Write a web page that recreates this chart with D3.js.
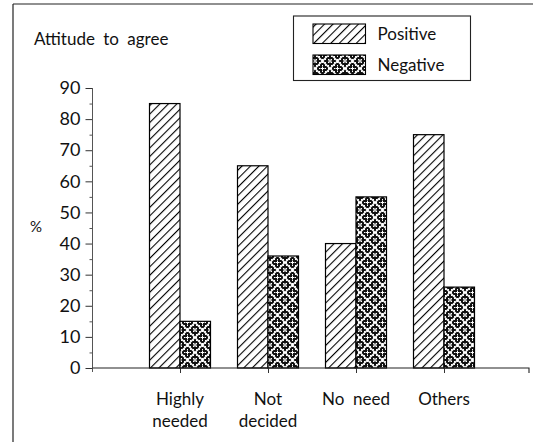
<!DOCTYPE html>
<html>
<head>
<meta charset="utf-8">
<script src="https://cdn.jsdelivr.net/npm/d3@7"></script>
<style>
  body { margin: 0; background: #fff; }
  svg text { font-family: Lato, "Open Sans", sans-serif; fill: #111; }
</style>
</head>
<body>
<svg id="chart" width="533" height="442"></svg>
<script>
const categories = ["Highly needed", "Not decided", "No need", "Others"];
const labelLines = [["Highly", "needed"], ["Not", "decided"], ["No  need"], ["Others"]];
const positive = [85, 65, 40, 75];
const negative = [15, 36, 55, 26];
const yTicks = [0, 10, 20, 30, 40, 50, 60, 70, 80, 90];
const series = ["Positive", "Negative"];

const svg = d3.select("#chart");
const axisX = 92.5;
const y0 = 368;
const yTop = 88;

const xScale = d3.scalePoint().domain(categories).range([180, 444]);
const yScale = d3.scaleLinear().domain([0, 90]).range([y0, yTop]);
const barW = 30.5;

// Patterns
const defs = svg.append("defs");
const hatch = defs.append("pattern")
  .attr("id", "hatch")
  .attr("patternUnits", "userSpaceOnUse")
  .attr("width", 6).attr("height", 6)
  .attr("patternTransform", "rotate(45)");
hatch.append("rect").attr("width", 6).attr("height", 6).attr("fill", "#fff");
hatch.append("line").attr("x1", 0).attr("y1", 0).attr("x2", 0).attr("y2", 6)
  .attr("stroke", "#000").attr("stroke-width", 2.2);

const dots = defs.append("pattern")
  .attr("id", "dots")
  .attr("patternUnits", "userSpaceOnUse")
  .attr("width", 3).attr("height", 3);
dots.append("rect").attr("width", 3).attr("height", 3).attr("fill", "#111");
dots.append("rect").attr("x", 1).attr("y", 1).attr("width", 1).attr("height", 1).attr("fill", "#fff");

const diamond = defs.append("pattern")
  .attr("id", "diamond")
  .attr("patternUnits", "userSpaceOnUse")
  .attr("width", 15).attr("height", 15);
diamond.append("rect").attr("width", 15).attr("height", 15).attr("fill", "#fff");
const dPts = [[7.5, 7.5], [0, 0], [15, 0], [0, 15], [15, 15]];
dPts.forEach(([cx, cy]) => {
  diamond.append("path")
    .attr("d", `M${cx},${cy - 6.4}L${cx + 6.4},${cy}L${cx},${cy + 6.4}L${cx - 6.4},${cy}Z`)
    .attr("fill", "url(#dots)");
  diamond.append("path")
    .attr("d", `M${cx - 2},${cy}H${cx + 2}M${cx},${cy - 2}V${cy + 2}`)
    .attr("stroke", "#fff").attr("stroke-width", 1);
});
const fills = { Positive: "url(#hatch)", Negative: "url(#diamond)" };

// Frame lines
svg.append("line").attr("x1", 13).attr("y1", 4).attr("x2", 533).attr("y2", 4)
  .attr("stroke", "#222").attr("stroke-width", 1.2);
svg.append("line").attr("x1", 13).attr("y1", 4).attr("x2", 13).attr("y2", 442)
  .attr("stroke", "#222").attr("stroke-width", 1.2);

// Bars
const rows = categories.map((c, i) => ({ cat: c, Positive: positive[i], Negative: negative[i] }));
const groups = svg.append("g").selectAll("g").data(rows).join("g");
groups.selectAll("rect")
  .data((d) => series.map((s, j) => ({ cat: d.cat, key: s, value: d[s], j })))
  .join("rect")
  .attr("x", (d) => xScale(d.cat) + (d.j === 0 ? -barW : 0))
  .attr("y", (d) => yScale(d.value))
  .attr("width", barW)
  .attr("height", (d) => yScale(0) - yScale(d.value))
  .attr("fill", (d) => fills[d.key])
  .attr("stroke", "#000")
  .attr("stroke-width", 1.2);

// Y axis
const yAxis = d3.axisLeft(yScale).tickValues(yTicks).tickSize(7).tickPadding(5);
const yG = svg.append("g").attr("transform", `translate(${axisX},0)`).call(yAxis);
yG.select(".domain").remove();
yG.selectAll(".tick line").attr("stroke", "#333");
yG.selectAll(".tick text").style("font-size", "18px");
svg.append("line").attr("x1", axisX).attr("x2", axisX).attr("y1", yTop).attr("y2", y0 + 4)
  .attr("stroke", "#555").attr("stroke-width", 1);
const yMinor = d3.axisLeft(yScale).tickValues(d3.range(5, 90, 10)).tickSize(3).tickFormat("");
const yMG = svg.append("g").attr("transform", `translate(${axisX},0)`).call(yMinor);
yMG.select(".domain").remove();
yMG.selectAll(".tick line").attr("stroke", "#555");

// X axis
const xAxis = d3.axisBottom(xScale).tickSize(5).tickFormat("");
const xG = svg.append("g").attr("transform", `translate(0,${y0})`).call(xAxis);
xG.select(".domain").remove();
xG.selectAll(".tick line").attr("stroke", "#333");
svg.append("path")
  .attr("d", `M${axisX},${y0}H529V${y0 + 5}`)
  .attr("fill", "none").attr("stroke", "#222").attr("stroke-width", 1.1);

const xl = svg.append("g").selectAll("text").data(categories).join("text")
  .attr("x", (d) => xScale(d))
  .attr("y", 405)
  .attr("text-anchor", "middle")
  .style("font-size", "17px")
  .style("white-space", "pre");
xl.selectAll("tspan").data((d, i) => labelLines[i]).join("tspan")
  .attr("x", function () { return d3.select(this.parentNode).attr("x"); })
  .attr("dy", (d, i) => (i === 0 ? 0 : 22))
  .text((d) => d);

// Titles
svg.append("text").attr("x", 34).attr("y", 45).style("font-size", "17px")
  .style("word-spacing", "4px").text("Attitude to agree");
svg.append("text").attr("x", 30).attr("y", 232).style("font-size", "15px").text("%");

// Legend
svg.append("rect").attr("x", 293.5).attr("y", 16).attr("width", 177).attr("height", 64.5)
  .attr("fill", "#fff").attr("stroke", "#222").attr("stroke-width", 1.1);
const leg = svg.append("g").selectAll("g").data(series).join("g")
  .attr("transform", (d, i) => `translate(0,${i * 31})`);
leg.append("rect").attr("x", 313).attr("y", 24).attr("width", 52.5).attr("height", 19.5)
  .attr("fill", (d) => fills[d]).attr("stroke", "#000").attr("stroke-width", 1.1);
leg.append("text").attr("x", 377.5).attr("y", 39.5).style("font-size", "17px").text((d) => d);
</script>
</body>
</html>
